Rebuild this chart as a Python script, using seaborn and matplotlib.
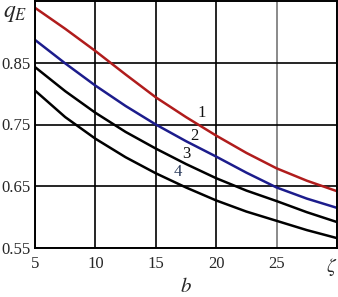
import matplotlib
matplotlib.use("Agg")
import pandas as pd
import matplotlib.pyplot as plt
import seaborn as sns

# values
b = [5, 7.5, 10, 12.5, 15, 17.5, 20, 22.5, 25, 27.5, 30]
curve1 = [0.939, 0.905, 0.869, 0.831, 0.794, 0.762, 0.732, 0.704, 0.679, 0.659, 0.642]
curve2 = [0.887, 0.849, 0.813, 0.780, 0.750, 0.723, 0.698, 0.672, 0.648, 0.630, 0.615]
curve3 = [0.843, 0.804, 0.769, 0.738, 0.711, 0.686, 0.663, 0.643, 0.626, 0.608, 0.592]
curve4 = [0.805, 0.762, 0.727, 0.697, 0.671, 0.648, 0.627, 0.609, 0.594, 0.579, 0.566]
curve_names = ["1", "2", "3", "4"]
curve_colors = ["#b01c1c", "#1c1c8c", "#000000", "#000000"]
x_ticks = [5, 10, 15, 20, 25, 30]
x_ticklabels = ["5", "10", "15", "20", "25", r"$\zeta$"]
y_ticks = [0.55, 0.65, 0.75, 0.85]

# label positions (data coords) for curve numbers
label_x = [18.8, 18.2, 17.5, 16.8]
label_y = [0.769, 0.731, 0.702, 0.673]

df = pd.DataFrame({
    "b": b * 4,
    "q": curve1 + curve2 + curve3 + curve4,
    "curve": [n for n in curve_names for _ in b],
})

sns.set_style("white")
plt.rcParams["font.family"] = ["Liberation Serif", "DejaVu Serif"]
plt.rcParams["mathtext.fontset"] = "stix"

fig = plt.figure(figsize=(3.38, 2.97), dpi=100)
ax = fig.add_axes([35 / 338, 49 / 297, 302 / 338, 247 / 297])

sns.lineplot(data=df, x="b", y="q", hue="curve", palette=curve_colors,
             linewidth=1.8, legend=False, ax=ax)

ax.set_xlim(5, 30)
ax.set_ylim(0.55, 0.95)
ax.set_xticks(x_ticks)
ax.set_xticklabels(x_ticklabels)
ax.set_yticks(y_ticks)
ax.set_yticklabels([f"{v:.2f}" for v in y_ticks])
ax.tick_params(length=0, labelsize=12, pad=3)
ax.tick_params(axis="x", pad=6)
ax.get_xticklabels()[-1].set_horizontalalignment("right")
ax.get_xticklabels()[-1].set_fontsize(14)
ax.grid(True, color="black", linewidth=1.2)
# the grid line at b = 25 is lighter in the original
ax.get_xgridlines()[4].set_color("#777777")
ax.set_axisbelow(True)
for s in ax.spines.values():
    s.set_color("black")
    s.set_linewidth(1.4)

ax.set_xlabel("$b$", fontsize=15, labelpad=0)
ax.set_ylabel("")
fig.text(0.008, 0.955, "$q_E$", fontsize=17, ha="left", va="center")

label_colors = ["#111111", "#111111", "#111111", "#2a3a5a"]
for name, lx, ly, c in zip(curve_names, label_x, label_y, label_colors):
    ax.text(lx, ly, name, fontsize=12, color=c, ha="center", va="center")

fig.savefig("out.png", dpi=100)
